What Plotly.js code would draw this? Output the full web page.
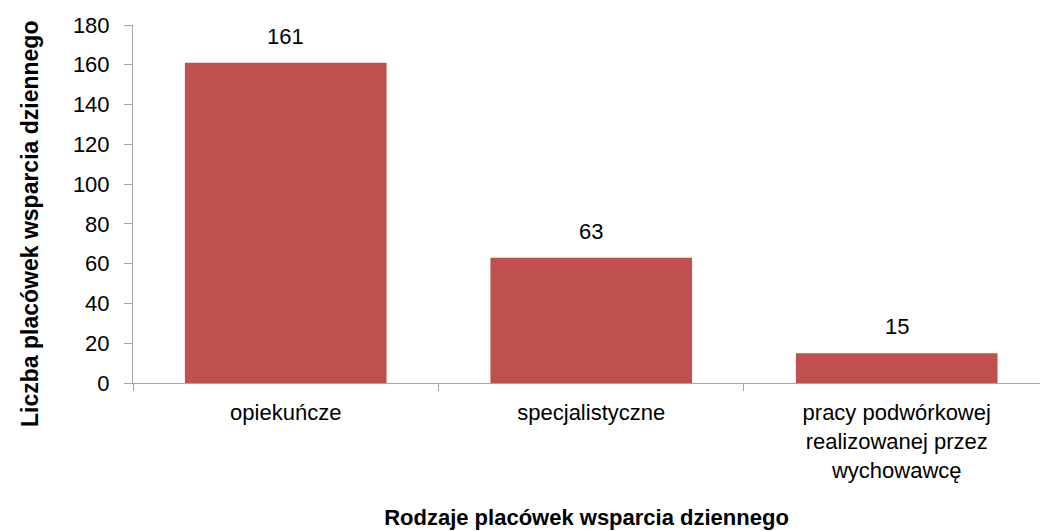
<!DOCTYPE html>
<html>
<head>
<meta charset="utf-8">
<script src="https://cdn.plot.ly/plotly-3.0.1.min.js"></script>
<style>html,body{margin:0;padding:0;background:#fff;}#chart{width:1040px;height:531px;}</style>
</head>
<body>
<div id="chart"></div>
<script>
const categories = ["opiekuńcze", "specjalistyczne", "pracy podwórkowej<br>realizowanej przez<br>wychowawcę"];
const values = [161, 63, 15];
const yTicks = [0, 20, 40, 60, 80, 100, 120, 140, 160, 180];
const xTitle = "Rodzaje placówek wsparcia dziennego";
const yTitle = "Liczba placówek wsparcia dziennego";

const FONT = "'Liberation Sans', Arial, sans-serif";

const trace = {
  type: "bar",
  x: categories,
  y: values,
  marker: {color: "#C0504D"},
  width: 0.66,
  hoverinfo: "none"
};

const annotations = categories.map((c, i) => ({
  x: c, y: values[i], xref: "x", yref: "y",
  text: String(values[i]), showarrow: false,
  yanchor: "bottom", yshift: 12,
  font: {family: FONT, size: 22, color: "#000"}
}));

annotations.push({
  xref: "paper", yref: "paper", x: 0, y: 0.5,
  xanchor: "center", yanchor: "middle",
  xshift: -103, yshift: -20,
  textangle: -90, showarrow: false,
  text: "<b>" + yTitle + "</b>",
  font: {family: FONT, size: 23, color: "#000"}
});

const layout = {
  width: 1040, height: 531,
  margin: {l: 133, r: 0, t: 25, b: 148},
  paper_bgcolor: "#fff", plot_bgcolor: "#fff",
  showlegend: false,
  font: {family: FONT, size: 22, color: "#000"},
  xaxis: {
    type: "category",
    range: [-0.5, 2.469],
    showline: true, linecolor: "#A6A6A6", linewidth: 1,
    ticks: "outside", tickson: "boundaries", ticklen: 7, tickcolor: "#A6A6A6",
    showgrid: false, zeroline: false,
    tickfont: {family: FONT, size: 22, color: "#000"},
    ticklabelstandoff: 10,
    automargin: false,
    title: {text: "<b>" + xTitle + "</b>", font: {family: FONT, size: 22, color: "#000"}, standoff: 28}
  },
  yaxis: {
    range: [0, 180],
    tickvals: yTicks,
    ticktext: yTicks.map(String),
    showline: true, linecolor: "#A6A6A6", linewidth: 1,
    ticks: "outside", ticklen: 8, tickcolor: "#A6A6A6",
    showgrid: false, zeroline: false,
    tickfont: {family: FONT, size: 22, color: "#000"},
    ticklabelstandoff: 10,
    automargin: false
  },
  annotations: annotations
};

Plotly.newPlot("chart", [trace], layout, {displayModeBar: false, staticPlot: true});
</script>
</body>
</html>
